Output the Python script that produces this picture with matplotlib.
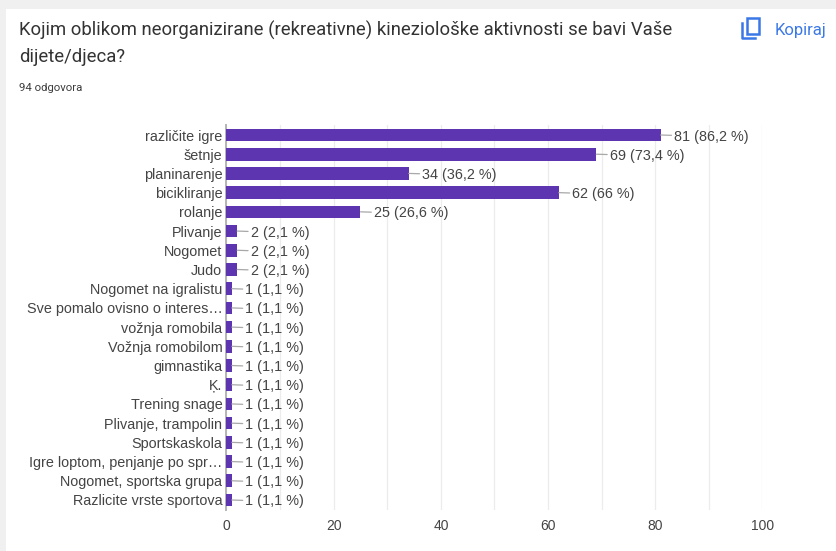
import matplotlib
matplotlib.use('Agg')
import matplotlib.pyplot as plt
from matplotlib.lines import Line2D
from matplotlib.patches import Rectangle

plt.rcParams['font.family'] = ['Roboto', 'DejaVu Sans']

categories = ['različite igre', 'šetnje', 'planinarenje', 'bicikliranje', 'rolanje',
              'Plivanje', 'Nogomet', 'Judo', 'Nogomet na igralistu',
              'Sve pomalo ovisno o interes…', 'vožnja romobila', 'Vožnja romobilom',
              'gimnastika', 'Ķ.', 'Trening snage', 'Plivanje, trampolin',
              'Sportskaskola', 'Igre loptom, penjanje po spr…',
              'Nogomet, sportska grupa', 'Razlicite vrste sportova']
values = [81, 69, 34, 62, 25, 2, 2, 2, 1, 1, 1, 1, 1, 1, 1, 1, 1, 1, 1, 1]
percents = ['86,2', '73,4', '36,2', '66', '26,6', '2,1', '2,1', '2,1', '1,1', '1,1',
            '1,1', '1,1', '1,1', '1,1', '1,1', '1,1', '1,1', '1,1', '1,1', '1,1']
xticks = [0, 20, 40, 60, 80, 100]

W, H = 837, 551
LABEL_FONT = ['Liberation Sans', 'DejaVu Sans']
fig = plt.figure(figsize=(W / 100, H / 100), dpi=100, facecolor='#f0f0f0')

# white card behind everything
fig.patches.append(Rectangle((6 / W, 0), 1, 1 - 9 / H, transform=fig.transFigure,
                             facecolor='white', edgecolor='none', zorder=-5))

ax = fig.add_axes([226.5 / W, 1 - 509.6 / H, (762.5 - 226.5) / W, 384.2 / H])
ax.patch.set_alpha(0)
ypos = list(range(len(categories)))
ax.barh(ypos, values, height=0.66, color='#5e35b1', zorder=3)

for y, v, p in zip(ypos, values, percents):
    ax.annotate(f'{v} ({p} %)', xy=(v, y), xytext=(9.8, 0), textcoords='offset points',
                ha='left', va='center_baseline', fontsize=10.4, color='#444444',
                family=LABEL_FONT,
                arrowprops=dict(arrowstyle='-', color='#a8a8a8', lw=0.9,
                                shrinkA=0, shrinkB=0))

ax.set_xlim(0, 100)
ax.set_ylim(len(categories) - 0.5, -0.5)
ax.set_yticks(ypos)
ax.set_yticklabels(categories, fontsize=10.4, color='#444444', family=LABEL_FONT)
ax.set_xticks(xticks)
ax.set_xticklabels(xticks, family=LABEL_FONT)
ax.set_xticks([10, 30, 50, 70, 90], minor=True)
ax.tick_params(axis='x', which='both', length=0, labelsize=10, labelcolor='#444444', pad=7)
ax.tick_params(axis='x', which='minor', labelbottom=False)
ax.tick_params(axis='y', length=0, pad=3)
ax.grid(axis='x', which='both', color='#ececec', lw=0.9, zorder=0)
ax.set_axisbelow(True)
for side in ['top', 'right', 'bottom']:
    ax.spines[side].set_visible(False)
ax.spines['left'].set_color('#b5b5b5')
ax.spines['left'].set_linewidth(1.4)
ax.spines['left'].set_zorder(2)

fig.text(19 / W, 1 - 30 / H, 'Kojim oblikom neorganizirane (rekreativne) kineziološke aktivnosti se bavi Vaše',
         fontsize=13.3, color='#333333', va='center')
fig.text(19 / W, 1 - 57 / H, 'dijete/djeca?', fontsize=13.3, color='#333333', va='center')
fig.text(19 / W, 1 - 88 / H, '94 odgovora', fontsize=8.2, color='#3c3c3c', va='center')
fig.text(775 / W, 1 - 30 / H, 'Kopiraj', fontsize=12, color='#3b78e7', va='center')

# copy icon: front page and the L of the page behind it
blue = '#3b78e7'
fig.patches.append(Rectangle((747 / W, 1 - 34 / H), 12.5 / W, 16 / H, transform=fig.transFigure,
                             facecolor='white', edgecolor=blue, lw=1.8))
fig.add_artist(Line2D([742 / W, 742 / W, 755 / W], [1 - 23 / H, 1 - 38 / H, 1 - 38 / H],
                      color=blue, lw=1.8))

fig.savefig('out.png', dpi=100, facecolor=fig.get_facecolor())
